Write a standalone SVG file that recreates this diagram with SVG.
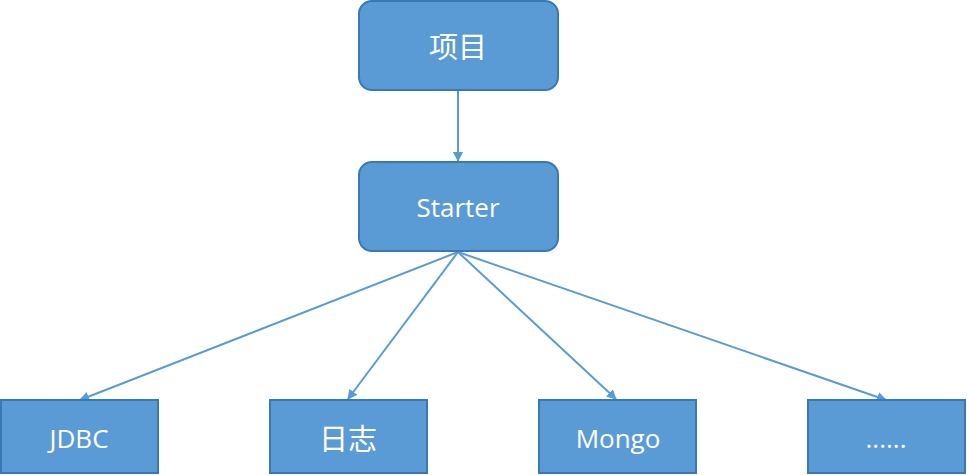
<svg xmlns="http://www.w3.org/2000/svg" width="967" height="475" viewBox="0 0 967 475">
<defs>
<style>
.box{fill:#5B9BD5;stroke:#3A78B5;stroke-width:2}
.t{fill:#fff;font-family:"Open Sans","Noto Sans CJK SC",sans-serif;font-size:26px;text-anchor:middle;dominant-baseline:central}
.cjk{font-family:"Noto Sans CJK SC",sans-serif;font-size:29px}
.c{stroke:#5B9BD5;stroke-width:2;fill:none;marker-end:url(#a)}
</style>
<marker id="a" viewBox="0 0 10 10" refX="9" refY="5" markerWidth="5" markerHeight="5" orient="auto" markerUnits="strokeWidth">
<path d="M0,0 L10,5 L0,10 z" fill="#5B9BD5"/>
</marker>
</defs>
<rect width="967" height="475" fill="#fff"/>
<g id="connectors">
<line class="c" x1="458" y1="90" x2="458" y2="161"/>
<line class="c" x1="458" y1="252" x2="80" y2="400"/>
<line class="c" x1="458" y1="252" x2="348" y2="399"/>
<line class="c" x1="458" y1="252" x2="616" y2="399"/>
<line class="c" x1="458" y1="252" x2="886" y2="400"/>
</g>
<g id="n1"><rect class="box" x="359" y="1" width="199" height="89" rx="13"/><text class="t cjk" x="458" y="45">项目</text></g>
<g id="n2"><rect class="box" x="359" y="162" width="199" height="89" rx="13"/><text class="t" x="458" y="207">Starter</text></g>
<g id="n3"><rect class="box" x="1" y="400" width="157" height="73"/><text class="t" x="79" y="438">JDBC</text></g>
<g id="n4"><rect class="box" x="270" y="400" width="157" height="73"/><text class="t cjk" x="348" y="437">日志</text></g>
<g id="n5"><rect class="box" x="539" y="400" width="157" height="73"/><text class="t" x="618" y="438">Mongo</text></g>
<g id="n6"><rect class="box" x="808" y="400" width="157" height="73"/><text class="t" x="886" y="438">......</text></g>
</svg>
